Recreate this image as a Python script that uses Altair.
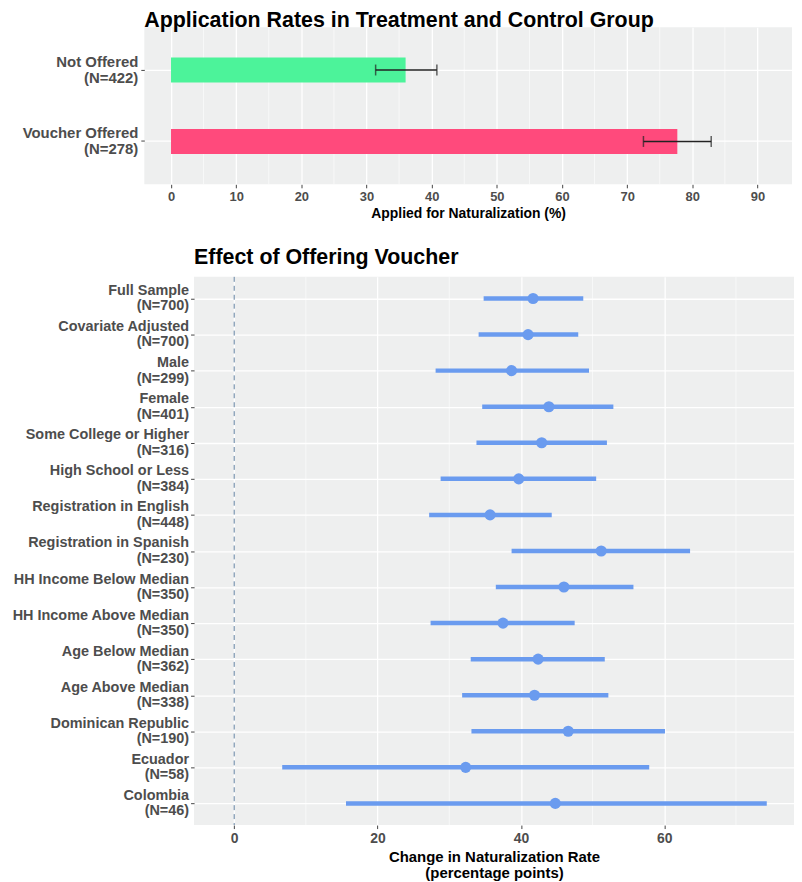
import altair as alt
import pandas as pd

FONT = "Liberation Sans, Arial, Helvetica, sans-serif"

# ---------------- top panel data ----------------
top_groups = ["Not Offered|(N=422)", "Voucher Offered|(N=278)"]
top_rates = [36.0, 77.7]
top_lo = [31.4, 72.5]
top_hi = [40.8, 82.9]
top_colors = ["#4CF39A", "#FF4A7C"]
top_ticks = [0, 10, 20, 30, 40, 50, 60, 70, 80, 90]
top_minor = [5, 15, 25, 35, 45, 55, 65, 75, 85]

# ---------------- bottom panel data ----------------
sub_names = ["Full Sample", "Covariate Adjusted", "Male", "Female",
             "Some College or Higher", "High School or Less",
             "Registration in English", "Registration in Spanish",
             "HH Income Below Median", "HH Income Above Median",
             "Age Below Median", "Age Above Median",
             "Dominican Republic", "Ecuador", "Colombia"]
sub_n = [700, 700, 299, 401, 316, 384, 448, 230, 350, 350, 362, 338, 190, 58, 46]
sub_est = [41.7, 41.0, 38.7, 43.9, 42.9, 39.7, 35.7, 51.2, 46.0, 37.5, 42.4, 41.9, 46.6, 32.3, 44.8]
sub_lo = [34.8, 34.1, 28.1, 34.6, 33.8, 28.8, 27.2, 38.7, 36.5, 27.4, 33.0, 31.8, 33.1, 6.7, 15.6]
sub_hi = [48.7, 48.0, 49.5, 52.9, 52.0, 50.5, 44.3, 63.6, 55.7, 47.5, 51.7, 52.2, 60.1, 57.9, 74.3]
bot_ticks = [0, 20, 40, 60]
bot_minor = [10, 30, 50, 70]
zero_line = [0]

BLUE = "#6A9BEF"
PANEL = "#EEEFEF"

# ================= top chart =================
top_df = pd.DataFrame({"group": top_groups, "rate": top_rates, "lo": top_lo, "hi": top_hi})
top_minor_df = pd.DataFrame({"v": top_minor})

xs_top = alt.Scale(domain=[-4.1, 95.3], nice=False, zero=False)
ys_top = alt.Scale(domain=top_groups, paddingInner=0.652, paddingOuter=0.426)
xaxis_top = alt.Axis(title="Applied for Naturalization (%)", values=top_ticks,
                     labelFontSize=13, titleFontSize=14, labelPadding=3, titlePadding=3)
yaxis_top = alt.Axis(title=None, labelExpr="split(datum.label, '|')", labelFontSize=15,
                     labelLineHeight=16, labelOffset=-8, minExtent=134, maxExtent=134, grid=True,
                     tickBand="center", labelPadding=3)

t_minor = alt.Chart(top_minor_df).mark_rule(color="white", strokeWidth=0.6).encode(
    x=alt.X("v:Q", scale=xs_top, axis=xaxis_top))
t_bar = alt.Chart(top_df).mark_bar().encode(
    x=alt.X("rate:Q", scale=xs_top, axis=xaxis_top),
    y=alt.Y("group:N", scale=ys_top, axis=yaxis_top),
    color=alt.Color("group:N", scale=alt.Scale(domain=top_groups, range=top_colors), legend=None))
t_err = alt.Chart(top_df).mark_rule(color="#222222", strokeWidth=1.5).encode(
    x=alt.X("lo:Q", scale=xs_top, axis=xaxis_top), x2="hi:Q",
    y=alt.Y("group:N", scale=ys_top, axis=yaxis_top))
t_cap1 = alt.Chart(top_df).mark_tick(color="#222222", thickness=1.5, size=11).encode(
    x=alt.X("lo:Q", scale=xs_top, axis=xaxis_top),
    y=alt.Y("group:N", scale=ys_top, axis=yaxis_top))
t_cap2 = alt.Chart(top_df).mark_tick(color="#222222", thickness=1.5, size=11).encode(
    x=alt.X("hi:Q", scale=xs_top, axis=xaxis_top),
    y=alt.Y("group:N", scale=ys_top, axis=yaxis_top))

top = alt.layer(t_minor, t_bar, t_err, t_cap1, t_cap2).properties(
    width=651, height=158,
    title=alt.TitleParams("Application Rates in Treatment and Control Group", anchor="start",
                          frame="group", fontSize=21.5, fontWeight="bold", font=FONT,
                          color="black", offset=-5))

# ================= bottom chart =================
sub_labels = [f"{n}|(N={k})" for n, k in zip(sub_names, sub_n)]
bot_df = pd.DataFrame({"label": sub_labels, "est": sub_est, "lo": sub_lo, "hi": sub_hi})
bot_minor_df = pd.DataFrame({"v": bot_minor})
zero_df = pd.DataFrame({"v": zero_line})

xs_bot = alt.Scale(domain=[-5.6, 78.1], nice=False, zero=False)
ys_bot = alt.Scale(type="point", domain=sub_labels, padding=0.6)
xaxis_bot = alt.Axis(title=["Change in Naturalization Rate", "(percentage points)"], values=bot_ticks,
                     labelFontSize=14, titleFontSize=15, titleLineHeight=16,
                     labelPadding=3, titlePadding=4)
yaxis_bot = alt.Axis(title=None, labelExpr="split(datum.label, '|')", labelFontSize=14.5,
                     labelLineHeight=15.5, labelOffset=-8, minExtent=182, maxExtent=182,
                     grid=True, labelPadding=2)

b_minor = alt.Chart(bot_minor_df).mark_rule(color="white", strokeWidth=0.6).encode(
    x=alt.X("v:Q", scale=xs_bot, axis=xaxis_bot))
b_zero = alt.Chart(zero_df).mark_rule(color="#5E7E9E", strokeWidth=1, strokeDash=[5, 4]).encode(
    x=alt.X("v:Q", scale=xs_bot, axis=xaxis_bot))
b_ci = alt.Chart(bot_df).mark_rule(color=BLUE, strokeWidth=4.5).encode(
    x=alt.X("lo:Q", scale=xs_bot, axis=xaxis_bot), x2="hi:Q",
    y=alt.Y("label:N", scale=ys_bot, axis=yaxis_bot))
b_pt = alt.Chart(bot_df).mark_circle(color=BLUE, size=125, opacity=1).encode(
    x=alt.X("est:Q", scale=xs_bot, axis=xaxis_bot),
    y=alt.Y("label:N", scale=ys_bot, axis=yaxis_bot))

bottom = alt.layer(b_minor, b_zero, b_ci, b_pt).properties(
    width=603, height=551,
    title=alt.TitleParams("Effect of Offering Voucher", anchor="start", frame="group",
                          fontSize=21.5, fontWeight="bold", font=FONT, color="black", offset=8))


def spacer():
    return alt.Chart(pd.DataFrame({"s": [""]})).mark_text(opacity=0).encode(
        text="s:N").properties(width=1, height=1,
                               view=alt.ViewBackground(fill="transparent", stroke="transparent"))


row_top = alt.hconcat(spacer(), top, spacing=0)
row_bot = alt.hconcat(spacer(), bottom, spacing=0)

chart = alt.vconcat(row_top, row_bot, spacing=26).properties(
    padding={"left": 0, "top": 0, "right": 0, "bottom": 0}
).configure_view(fill=PANEL, stroke=None).configure_axis(
    labelFont=FONT, titleFont=FONT, labelFontWeight="bold", titleFontWeight="bold",
    labelColor="#4D4D4D", titleColor="black", domain=False, tickColor="#444444",
    tickSize=3.5, tickWidth=1, gridColor="white", gridWidth=1.3
)

chart.save("out.html", embed_options={"renderer": "svg", "actions": False})
